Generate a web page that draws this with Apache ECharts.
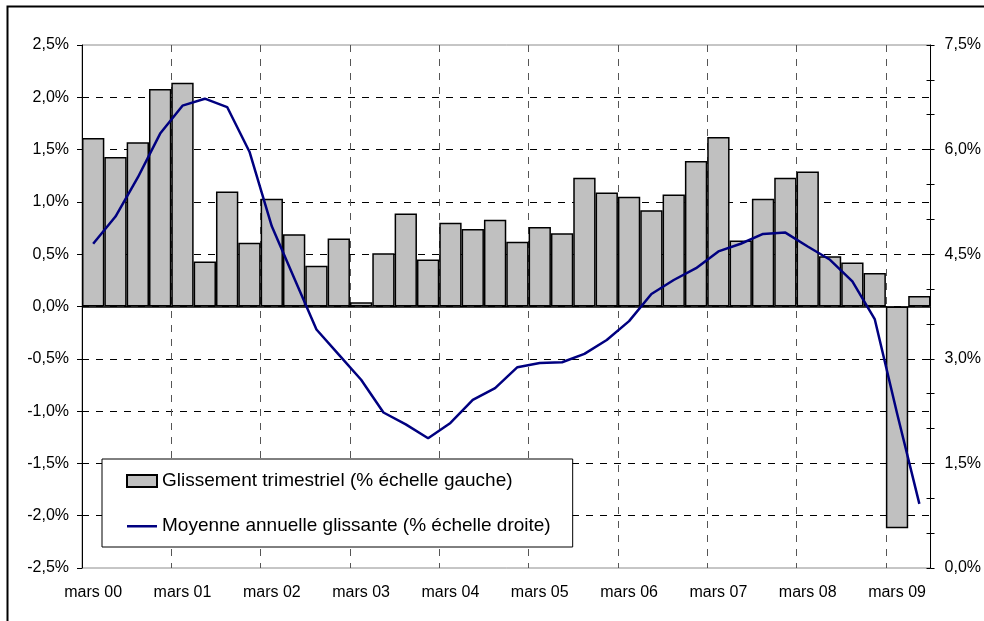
<!DOCTYPE html>
<html>
<head>
<meta charset="utf-8">
<title>Glissement trimestriel</title>
<script src="https://cdn.jsdelivr.net/npm/echarts@6/dist/echarts.min.js"></script>
<style>
  html, body { margin: 0; padding: 0; background: #fff; }
  #main { width: 984px; height: 621px; }
</style>
</head>
<body>
<div id="main"></div>
<script>
'use strict';
// trimestres mars 00 -> juin 09
var quarters = [
  'mars 00', 'juin 00', 'sept 00', 'déc 00',
  'mars 01', 'juin 01', 'sept 01', 'déc 01',
  'mars 02', 'juin 02', 'sept 02', 'déc 02',
  'mars 03', 'juin 03', 'sept 03', 'déc 03',
  'mars 04', 'juin 04', 'sept 04', 'déc 04',
  'mars 05', 'juin 05', 'sept 05', 'déc 05',
  'mars 06', 'juin 06', 'sept 06', 'déc 06',
  'mars 07', 'juin 07', 'sept 07', 'déc 07',
  'mars 08', 'juin 08', 'sept 08', 'déc 08',
  'mars 09', 'juin 09'
];
// glissement trimestriel (% échelle gauche)
var glissement = [
  1.61, 1.43, 1.57, 2.08, 2.14, 0.43, 1.10, 0.61,
  1.03, 0.69, 0.39, 0.65, 0.04, 0.51, 0.89, 0.45,
  0.80, 0.74, 0.83, 0.62, 0.76, 0.70, 1.23, 1.09,
  1.05, 0.92, 1.07, 1.39, 1.62, 0.63, 1.03, 1.23,
  1.29, 0.48, 0.42, 0.32, -2.12, 0.10
];
// moyenne annuelle glissante (% échelle droite)
var moyenne = [
  4.65, 5.04, 5.60, 6.23, 6.63, 6.73, 6.61, 5.97,
  4.90, 4.16, 3.42, 3.06, 2.70, 2.23, 2.06, 1.86,
  2.08, 2.41, 2.58, 2.88, 2.94, 2.95, 3.07, 3.27,
  3.54, 3.93, 4.13, 4.30, 4.54, 4.65, 4.79, 4.81,
  4.61, 4.42, 4.11, 3.57, 2.22, 0.92
];
var leftAxis = { min: -2.5, max: 2.5, step: 0.5 };
var rightAxis = { min: 0, max: 7.5, step: 1.5 };
var serieNames = ['Glissement trimestriel (% échelle gauche)', 'Moyenne annuelle glissante (% échelle droite)'];

var FONT = '"Liberation Sans", Arial, sans-serif';
// icône de légende : trait fin centré (les petits segments fixent la boîte 30x12)
var LINE_ICON = 'path://M0,0 L0.01,0 L0,0.01 Z M0,5 L30,5 L30,7.5 L0,7.5 Z M30,12 L29.99,12 L30,11.99 Z';

function pct(v) {
  return v.toFixed(1).replace('.', ',') + '%';
}

var chart = echarts.init(document.getElementById('main'), null, { renderer: 'canvas' });

chart.setOption({
  backgroundColor: '#fff',
  animation: false,
  textStyle: { fontFamily: FONT, color: '#000' },
  grid: {
    left: 82, right: 48.5, top: 45, bottom: 53,
    show: true, borderColor: '#8c8c8c', borderWidth: 1
  },
  // cadre extérieur
  graphic: [{
    type: 'rect',
    shape: { x: 7.5, y: 6.5, width: 1000, height: 700 },
    style: { fill: null, stroke: '#000', lineWidth: 2 },
    silent: true
  }],
  legend: {
    orient: 'vertical',
    left: 102, top: 459,
    data: [
      { name: serieNames[0], icon: 'rect' },
      { name: serieNames[1], icon: LINE_ICON }
    ],
    backgroundColor: '#fff',
    borderColor: '#000', borderWidth: 1,
    padding: [12, 22, 11, 24],
    itemWidth: 30, itemHeight: 12, itemGap: 25,
    textStyle: { fontFamily: FONT, fontSize: 19, color: '#000', lineHeight: 20 }
  },
  xAxis: {
    type: 'category',
    data: quarters,
    boundaryGap: true,
    axisLine: { show: false, onZero: false },
    axisTick: { show: false, interval: 3 },
    axisLabel: { interval: 3, fontSize: 16, color: '#000', margin: 17, fontFamily: FONT },
    splitLine: { show: true, interval: 3, lineStyle: { color: '#555', type: [7, 7], width: 1 } }
  },
  yAxis: [{
    type: 'value',
    position: 'left',
    min: leftAxis.min, max: leftAxis.max, interval: leftAxis.step,
    axisLine: { show: true, lineStyle: { color: '#000', width: 1 } },
    axisTick: { show: true, length: 5, lineStyle: { color: '#000' } },
    axisLabel: { formatter: pct, fontSize: 16, color: '#000', margin: 13, fontFamily: FONT },
    splitLine: { show: true, showMinLine: false, showMaxLine: false, lineStyle: { color: '#000', type: [7, 7], width: 1 } }
  }, {
    type: 'value',
    position: 'right',
    min: rightAxis.min, max: rightAxis.max, interval: rightAxis.step,
    axisLine: { show: true, lineStyle: { color: '#000', width: 1 } },
    axisTick: { show: true, length: 4, lineStyle: { color: '#000' } },
    minorTick: { show: true, splitNumber: 3, length: 4, lineStyle: { color: '#000' } },
    axisLabel: { formatter: pct, fontSize: 16, color: '#000', margin: 14, fontFamily: FONT },
    splitLine: { show: false }
  }, {
    // ticks intérieurs (graduations croisées à droite)
    type: 'value',
    position: 'right',
    min: rightAxis.min, max: rightAxis.max, interval: rightAxis.step,
    axisLine: { show: false },
    axisTick: { show: true, inside: true, length: 4, lineStyle: { color: '#000' } },
    minorTick: { show: true, splitNumber: 3, length: 4, lineStyle: { color: '#000' } },
    axisLabel: { show: false },
    splitLine: { show: false }
  }],
  series: [{
    name: serieNames[0],
    type: 'bar',
    yAxisIndex: 0,
    data: glissement,
    barCategoryGap: 0,
    itemStyle: { color: '#c0c0c0', borderColor: '#000', borderWidth: 1.5 },
    markLine: {
      silent: true,
      symbol: 'none',
      label: { show: false },
      lineStyle: { color: '#000', type: 'solid', width: 1.5 },
      data: [{ yAxis: 0 }]
    }
  }, {
    name: serieNames[1],
    type: 'line',
    yAxisIndex: 1,
    data: moyenne,
    symbol: 'none',
    lineStyle: { color: '#000080', width: 2.5 },
    itemStyle: { color: '#000080' },
    z: 5
  }]
});
</script>
</body>
</html>
